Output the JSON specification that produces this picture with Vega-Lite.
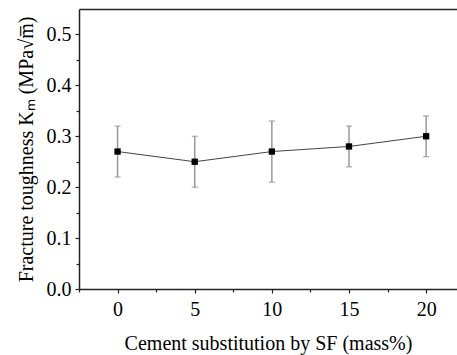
{
  "$schema": "https://vega.github.io/schema/vega-lite/v6.json",
  "width": 378,
  "height": 280,
  "autosize": {"type": "none"},
  "padding": {"left": 79, "top": 9, "right": 0, "bottom": 66},
  "background": "white",
  "config": {
    "view": {"stroke": null},
    "font": "Liberation Serif",
    "axis": {
      "labelFont": "Liberation Serif",
      "titleFont": "Liberation Serif",
      "labelFontSize": 20,
      "titleFontSize": 20,
      "titleFontWeight": "normal",
      "labelColor": "black",
      "titleColor": "black",
      "domainColor": "#222",
      "tickColor": "#222",
      "domainWidth": 1.5,
      "tickWidth": 1.2,
      "grid": false
    }
  },
  "data": {
    "values": [
      {"sf": 0, "k": 0.27, "lo": 0.22, "hi": 0.32},
      {"sf": 5, "k": 0.25, "lo": 0.20, "hi": 0.30},
      {"sf": 10, "k": 0.27, "lo": 0.21, "hi": 0.33},
      {"sf": 15, "k": 0.28, "lo": 0.24, "hi": 0.32},
      {"sf": 20, "k": 0.30, "lo": 0.26, "hi": 0.34}
    ]
  },
  "resolve": {"axis": {"x": "independent", "y": "independent"}},
  "layer": [
    {
      "mark": {"type": "rule", "color": "#999", "strokeWidth": 1.5},
      "encoding": {
        "x": {"field": "sf", "type": "quantitative", "scale": {"domain": [-2.5, 22], "nice": false, "zero": false},
          "axis": {"orient": "bottom", "values": [0, 5, 10, 15, 20], "tickSize": 4, "labelPadding": 6, "labelFlush": false, "labelFont": "Liberation Serif", "labelFontSize": 20, "title": "Cement substitution by SF (mass%)", "titlePadding": 14}},
        "y": {"field": "lo", "type": "quantitative", "scale": {"domain": [0, 0.55], "nice": false},
          "axis": {"orient": "left", "values": [0, 0.1, 0.2, 0.3, 0.4, 0.5], "format": ".1f", "tickSize": 4, "labelPadding": 4, "labelFlush": false, "labelFont": "Liberation Serif", "labelFontSize": 20, "title": "Fracture toughness Kₘ (MPa√m̅)", "titlePadding": 10}},
        "y2": {"field": "hi"}
      }
    },
    {
      "mark": {"type": "tick", "orient": "horizontal", "color": "#888", "size": 6, "thickness": 1.2},
      "encoding": {
        "x": {"field": "sf", "type": "quantitative", "scale": {"domain": [-2.5, 22], "nice": false, "zero": false},
          "axis": {"orient": "bottom", "values": [-2.5, 2.5, 7.5, 12.5, 17.5], "labels": false, "domain": false, "tickSize": 3, "title": null}},
        "y": {"field": "lo", "type": "quantitative", "scale": {"domain": [0, 0.55], "nice": false},
          "axis": {"orient": "left", "values": [0.05, 0.15, 0.25, 0.35, 0.45], "labels": false, "domain": false, "tickSize": 3, "title": null}}
      }
    },
    {
      "mark": {"type": "tick", "orient": "horizontal", "color": "#888", "size": 6, "thickness": 1.2},
      "encoding": {
        "x": {"field": "sf", "type": "quantitative", "scale": {"domain": [-2.5, 22], "nice": false, "zero": false},
          "axis": {"orient": "top", "labels": false, "ticks": false, "title": null}},
        "y": {"field": "hi", "type": "quantitative", "scale": {"domain": [0, 0.55], "nice": false}, "axis": null}
      }
    },
    {
      "mark": {"type": "line", "color": "#444", "strokeWidth": 1},
      "encoding": {
        "x": {"field": "sf", "type": "quantitative", "axis": null},
        "y": {"field": "k", "type": "quantitative", "axis": null}
      }
    },
    {
      "mark": {"type": "square", "color": "black", "filled": true, "opacity": 1, "size": 40},
      "encoding": {
        "x": {"field": "sf", "type": "quantitative", "axis": null},
        "y": {"field": "k", "type": "quantitative", "axis": null}
      }
    }
  ]
}
